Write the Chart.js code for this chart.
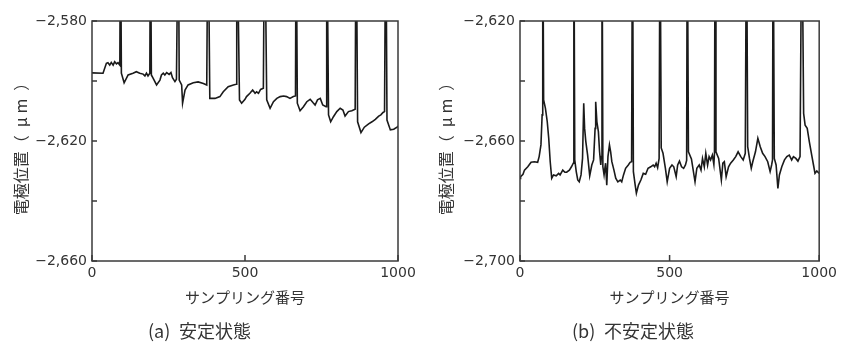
<!DOCTYPE html>
<html lang="ja">
<head>
<meta charset="utf-8">
<title>電極位置</title>
<script src="https://cdn.jsdelivr.net/npm/chart.js@4"></script>
<style>
    html, body { margin: 0; padding: 0; background: #ffffff; }
    #figura { position: relative; width: 841px; height: 364px; overflow: hidden; }
    canvas { position: absolute; top: 0; }
    #graficoEstavel { left: 0; }
    #graficoInstavel { left: 420px; }
    .legenda {
        position: absolute;
        top: 319px;
        font: 18px "Noto Sans CJK JP", sans-serif;
        line-height: 22px;
        color: #333333;
        white-space: nowrap;
    }
    .legenda span { position: absolute; top: 0; }
</style>
</head>
<body>
<div id="figura">
    <canvas id="graficoEstavel" width="420" height="364"></canvas>
    <canvas id="graficoInstavel" width="421" height="364"></canvas>
    <div class="legenda" style="left:148px">(a)<span style="left:31px">安定状態</span></div>
    <div class="legenda" style="left:572px">(b)<span style="left:32px">不安定状態</span></div>
</div>

<script>
/* Dados: número da amostra e posição do eléctrodo (µm) */
const amostrasA = [
    0, 36, 47, 52, 58, 63, 69, 74, 80, 85, 91, 93, 96, 105, 118, 134, 145, 156, 167, 173,
    178, 183, 189, 191, 194, 200, 211, 222, 227, 233, 238, 244, 252, 258, 263, 271, 276, 282, 285, 293,
    296, 304, 314, 331, 347, 364, 375, 379, 385, 402, 418, 429, 445, 462, 471, 473, 482, 489, 500, 505,
    516, 525, 533, 538, 544, 551, 560, 564, 571, 582, 593, 604, 615, 626, 636, 647, 658, 665, 667, 671,
    680, 691, 702, 713, 722, 729, 737, 746, 754, 765, 767, 773, 780, 789, 800, 811, 820, 827, 838, 849,
    860, 863, 868, 879, 890, 904, 915, 926, 937, 944, 951, 956, 960, 964, 975, 986, 997, 1000
];
const posicaoA = [
    -2597.3, -2597.4, -2594.1, -2593.9, -2594.7, -2593.8, -2594.7, -2593.6, -2594.3, -2593.9, -2594.7, -2540, -2597.4, -2600.6, -2598.0, -2597.4, -2596.9, -2597.4, -2597.7, -2598.3,
    -2597.4, -2598.3, -2597.4, -2540, -2598.0, -2599.1, -2601.3, -2599.7, -2598.0, -2597.4, -2598.0, -2597.2, -2597.8, -2597.2, -2598.9, -2600.2, -2599.4, -2540, -2599.7, -2601.3,
    -2607.4, -2603.0, -2601.3, -2600.6, -2600.3, -2600.8, -2601.3, -2540, -2605.8, -2605.8, -2605.2, -2603.6, -2601.9, -2601.3, -2601.1, -2540, -2606.3, -2607.4, -2606.1, -2605.2,
    -2604.1, -2603.0, -2604.1, -2603.6, -2604.1, -2602.8, -2602.4, -2540, -2606.3, -2609.1, -2606.9, -2605.8, -2605.2, -2605.0, -2605.2, -2605.8, -2605.2, -2605.0, -2540, -2607.4,
    -2609.9, -2608.6, -2606.9, -2606.1, -2607.2, -2608.0, -2606.3, -2605.8, -2608.0, -2608.6, -2540, -2611.3, -2613.6, -2611.9, -2610.2, -2609.1, -2609.7, -2611.7, -2610.2, -2609.9,
    -2609.4, -2540, -2613.6, -2617.2, -2615.4, -2614.3, -2613.6, -2612.8, -2611.7, -2611.3, -2610.5, -2610.2, -2540, -2613.0, -2616.3, -2616.1, -2615.4, -2615.0
];

const amostrasB = [
    0, 2, 10, 15, 26, 37, 48, 59, 64, 70, 74, 76, 79, 85, 91, 96, 101, 106, 112, 121,
    129, 134, 143, 150, 156, 165, 172, 178, 180, 183, 188, 193, 198, 204, 209, 213, 216, 220, 226, 233,
    240, 246, 251, 253, 257, 262, 266, 270, 272, 274, 277, 281, 286, 290, 294, 299, 303, 307, 314, 320,
    327, 335, 340, 346, 353, 362, 368, 373, 376, 379, 385, 389, 396, 404, 412, 420, 428, 437, 445, 450,
    455, 460, 465, 468, 472, 478, 486, 492, 500, 508, 514, 522, 527, 533, 540, 547, 553, 557, 559, 563,
    573, 585, 591, 599, 605, 610, 616, 621, 627, 632, 637, 643, 648, 650, 652, 655, 664, 673, 678, 683,
    689, 697, 704, 713, 721, 729, 738, 746, 753, 757, 761, 767, 773, 778, 787, 795, 803, 811, 819, 828,
    836, 841, 844, 846, 850, 856, 862, 867, 875, 884, 892, 900, 908, 914, 922, 929, 936, 942, 948, 953,
    960, 967, 975, 981, 986, 992, 1000
];
const posicaoB = [
    -2672.5, -2671.9, -2671.1, -2669.7, -2668.6, -2667.1, -2666.9, -2667.1, -2665.2, -2661.3, -2651.3, -2580, -2646.3, -2649.1, -2653.5, -2659.1, -2666.9, -2672.4, -2671.3, -2671.6,
    -2670.8, -2671.3, -2669.7, -2670.4, -2670.4, -2669.7, -2668.6, -2667.4, -2580, -2666.3, -2670.2, -2673.0, -2673.6, -2671.3, -2665.8, -2647.4, -2655.8, -2660.2, -2664.7, -2671.6,
    -2668.0, -2666.3, -2655.8, -2646.9, -2653.6, -2656.9, -2663.6, -2668.0, -2665.2, -2580, -2668.6, -2671.3, -2667.4, -2674.7, -2665.2, -2661.3, -2663.6, -2666.9, -2669.7, -2672.4,
    -2673.6, -2673.0, -2673.6, -2671.3, -2669.1, -2668.0, -2667.1, -2666.9, -2580, -2670.2, -2674.7, -2677.4, -2674.7, -2673.0, -2670.8, -2671.1, -2669.1, -2668.6, -2668.0, -2668.6,
    -2667.4, -2668.9, -2665.8, -2580, -2662.3, -2664.1, -2669.1, -2673.6, -2669.1, -2668.0, -2668.6, -2671.9, -2668.0, -2666.7, -2668.6, -2669.1, -2668.0, -2666.5, -2580, -2663.6,
    -2666.0, -2673.6, -2669.1, -2668.0, -2669.7, -2665.8, -2668.6, -2664.1, -2668.0, -2665.2, -2666.3, -2664.7, -2667.8, -2664.1, -2580, -2663.6, -2665.8, -2673.0, -2667.4, -2666.9,
    -2671.9, -2668.6, -2667.4, -2666.3, -2665.2, -2663.6, -2665.2, -2666.3, -2664.1, -2580, -2661.9, -2665.8, -2669.1, -2666.9, -2663.6, -2659.1, -2661.9, -2664.1, -2665.2, -2666.9,
    -2670.2, -2668.0, -2666.3, -2580, -2665.8, -2668.0, -2675.8, -2671.3, -2668.6, -2666.3, -2665.2, -2664.7, -2666.3, -2665.2, -2665.8, -2666.7, -2665.2, -2580, -2650.8, -2654.7,
    -2655.8, -2660.2, -2664.7, -2668.0, -2670.8, -2670.0, -2670.8
];

/* Limites dos eixos e rótulos das marcas */
const limitesXA = [0, 1000];
const limitesYA = [-2660, -2580];
const limitesXB = [0, 1000];
const limitesYB = [-2700, -2620];
const rotulosX = ['0', '500', '1000'];
const rotulosYA = ['\u22122,660', '', '\u22122,620', '', '\u22122,580'];
const rotulosYB = ['\u22122,700', '', '\u22122,660', '', '\u22122,620'];

const tituloX = 'サンプリング番号';
// espaços para imitar o espaçamento do original e descer um pouco o título
const tituloY = '電極位置（\u2002μ m\u2002）\u3000';

/* Moldura completa da área do gráfico e marcas viradas para dentro */
const moldura = {
    id: 'moldura',
    afterDraw: function (chart) {
        const ctx = chart.ctx;
        const area = chart.chartArea;
        const x = chart.scales.x;
        const y = chart.scales.y;

        ctx.save();
        ctx.strokeStyle = '#3a3a3a';
        ctx.lineWidth = 1.5;
        ctx.strokeRect(area.left, area.top, area.right - area.left, area.bottom - area.top);

        ctx.beginPath();
        y.ticks.forEach(function (tick) {
            const py = y.getPixelForValue(tick.value);
            ctx.moveTo(area.left, py);
            ctx.lineTo(area.left + 5, py);
        });
        x.ticks.forEach(function (tick) {
            const px = x.getPixelForValue(tick.value);
            ctx.moveTo(px, area.bottom);
            ctx.lineTo(px, area.bottom - 6);
        });
        ctx.stroke();
        ctx.restore();
    }
};

function criarGrafico(idCanvas, amostras, posicoes, limitesX, limitesY, rotulosY, larguraEixoY, margemDireita, afastamentoTitulo) {
    const canvas = document.getElementById(idCanvas);

    const pontos = amostras.map(function (amostra, i) {
        return { x: amostra, y: posicoes[i] };
    });

    new Chart(canvas, {
        type: 'line',
        data: {
            datasets: [{
                data: pontos,
                borderColor: '#1a1a1a',
                borderWidth: 1.6,
                pointRadius: 0,
                tension: 0,
                clip: 0
            }]
        },
        options: {
            responsive: false,
            animation: false,
            events: [],
            layout: {
                padding: { left: 0, right: margemDireita, top: 21, bottom: 58 }
            },
            plugins: {
                legend: { display: false },
                tooltip: { enabled: false }
            },
            scales: {
                x: {
                    type: 'linear',
                    min: limitesX[0],
                    max: limitesX[1],
                    grid: { display: false, drawTicks: false },
                    border: { display: false },
                    ticks: {
                        stepSize: 500,
                        maxRotation: 0,
                        padding: 4,
                        color: '#333333',
                        font: { family: 'DejaVu Sans', size: 14 },
                        callback: function (valor, indice) {
                            return rotulosX[indice];
                        }
                    },
                    title: {
                        display: true,
                        text: tituloX,
                        color: '#333333',
                        padding: { top: 0, bottom: 0 },
                        font: { family: 'Noto Sans CJK JP', size: 15 }
                    },
                    afterFit: function (escala) {
                        escala.height = 45;
                    }
                },
                y: {
                    min: limitesY[0],
                    max: limitesY[1],
                    grid: { display: false, drawTicks: false },
                    border: { display: false },
                    ticks: {
                        stepSize: 20,
                        padding: 5,
                        color: '#333333',
                        font: { family: 'DejaVu Sans', size: 14 },
                        callback: function (valor, indice) {
                            return rotulosY[indice];
                        }
                    },
                    title: {
                        display: true,
                        text: tituloY,
                        color: '#333333',
                        padding: { top: afastamentoTitulo, bottom: 0 },
                        font: { family: 'Noto Sans CJK JP', size: 16 }
                    },
                    afterFit: function (escala) {
                        escala.width = larguraEixoY;
                    }
                }
            }
        },
        plugins: [moldura]
    });
}

document.addEventListener('DOMContentLoaded', function () {
    criarGrafico('graficoEstavel', amostrasA, posicaoA, limitesXA, limitesYA, rotulosYA, 92, 22, 11);
    criarGrafico('graficoInstavel', amostrasB, posicaoB, limitesXB, limitesYB, rotulosYB, 100, 15, 16);
});
</script>
</body>
</html>
